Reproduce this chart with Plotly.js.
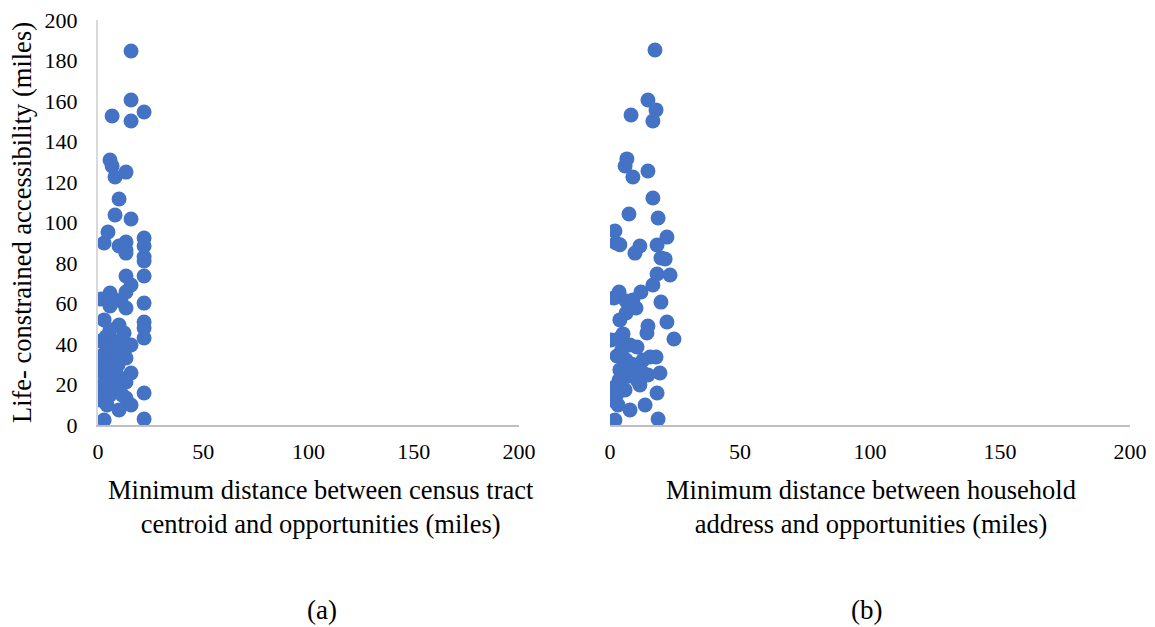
<!DOCTYPE html>
<html>
<head>
<meta charset="utf-8">
<script src="https://cdn.plot.ly/plotly-3.0.1.min.js"></script>
<style>html,body{margin:0;padding:0;background:#fff}#chart{width:1155px;height:627px}</style>
</head>
<body>
<div id="chart"></div>
<script>
// Panel (a): census tract centroid distance (x) vs life-constrained accessibility (y)
const tractDistance = [15.7,15.7,21.9,6.7,15.7,5.7,6.7,8.1,13.3,10,8.1,15.7,4.75,2.9,10,13.3,13.3,21.9,21.9,13.3,21.9,21.9,13.3,21.9,15.7,13.3,5.7,1.4,8.1,10.9,21.9,5.7,13.3,2.9,21.9,21.9,10,12.4,21.9,1.4,3.8,6.7,15.7,2.4,5.7,9.5,12.4,13.3,2.4,5.7,9.5,8.1,2.4,15.7,4.75,10.5,13.3,2.4,6.7,10,2.4,5.7,21.9,1.4,13.3,4.3,15.7,10,2.9,21.9,8.1,5.7,10.5,3.8,11.5];
const tractAccess   = [184.7,160.5,154.6,152.6,150.1,130.9,127.9,122.5,124.9,111.6,103.7,101.7,95.3,89.9,88.4,90.4,86.4,92.3,88.4,84.9,83,81,73.6,73.6,69.1,65.7,65.2,62.2,61.7,61.2,60.2,58.8,57.8,51.9,50.9,47.9,49.4,45.4,43,41.5,43.5,42,39.5,34.6,38,37,36,33.1,31.1,31.1,29.6,26.2,25.7,25.7,23.2,23.2,21.2,19.8,19.8,17.3,14.8,14.8,15.8,12.3,13.3,9.9,9.9,7.4,2.5,3,34.6,47,41,28,14.8];

// Panel (b): household address distance (x) vs life-constrained accessibility (y)
const householdDistance = [17.3,14.6,17.7,8.1,16.5,6.5,5.8,8.8,14.6,16.5,7.3,18.5,1.9,2.3,3.8,11.5,18.1,9.6,21.9,19.6,21.2,18.1,23.1,16.5,11.9,3.5,1.5,6.2,8.8,19.6,10,6.2,3.8,14.6,14.2,21.9,24.6,0.4,3.8,7.7,10.4,2.7,6.2,15.4,17.7,12.7,3.8,9.6,19.2,3.5,14.6,12.3,1.9,5.8,11.5,18.1,0.8,3.1,13.5,7.7,1.9,18.5,5,8.5,4.5,10.5,6.5,2.5];
const householdAccess   = [185.2,160.5,155.6,153.1,150.1,131.4,127.9,122.5,125.4,112.1,104.2,102.2,95.8,89.9,89,88.4,88.9,84.9,92.8,82.5,82,74.6,74.1,69.1,65.7,65.7,62.7,61.2,61.7,60.7,57.8,55.3,51.9,48.9,45.4,50.9,42.5,42,43,39.5,38.5,34.1,32.1,33.6,33.6,32.1,27.2,27.2,25.7,22.2,24.7,26.2,18.8,17.3,19.8,15.8,12.3,9.9,9.9,7.4,2.5,3,45,30,37,22,24,15];

const xTicks = [0,50,100,150,200];
const yTicks = [0,20,40,60,80,100,120,140,160,180,200];
const xTitleA = 'Minimum distance between census tract<br>centroid and opportunities (miles)';
const xTitleB = 'Minimum distance between household<br>address and opportunities (miles)';
const yTitle = 'Life- constrained accessibility (miles)';
const panelLabels = ['(a)','(b)'];

const serif = 'Liberation Serif, Times New Roman, serif';
const marker = {color:'#4472C4', size:15, line:{width:0}};

const traces = [
  {type:'scatter', mode:'markers', x:tractDistance, y:tractAccess, xaxis:'x', yaxis:'y', marker:marker, hoverinfo:'x+y'},
  {type:'scatter', mode:'markers', x:householdDistance, y:householdAccess, xaxis:'x2', yaxis:'y2', marker:marker, hoverinfo:'x+y'}
];

const W = 1155, H = 627;
const xAxisBase = {
  range:[0,200], tickvals:xTicks, ticktext:xTicks.map(String), showgrid:false, zeroline:false,
  showline:true, linecolor:'#BFBFBF', linewidth:2, ticks:'', ticklabelstandoff:6,
  tickfont:{family:serif, size:22, color:'#000'}, fixedrange:true
};
const titleFont = {family:serif, size:26.5, color:'#000'};
const layout = {
  width:W, height:H, margin:{l:0,r:0,t:0,b:0}, showlegend:false,
  paper_bgcolor:'#fff', plot_bgcolor:'#fff',
  font:{family:serif, color:'#000'},
  xaxis:Object.assign({}, xAxisBase, {domain:[98/W, 519/W], anchor:'y'}),
  xaxis2:Object.assign({}, xAxisBase, {domain:[610/W, 1130/W], anchor:'y2'}),
  yaxis:{domain:[(H-425)/H, (H-20)/H], range:[0,200], tickvals:yTicks, showgrid:false, zeroline:false,
    showline:true, linecolor:'#D9D9D9', linewidth:2, ticks:'', ticklabelstandoff:14, anchor:'x',
    tickfont:{family:serif,size:22,color:'#000'},
    title:{text:yTitle, font:titleFont, standoff:5}, fixedrange:true},
  yaxis2:{domain:[(H-425)/H, (H-20)/H], range:[0,200], showgrid:false, zeroline:false, showline:false,
    showticklabels:false, ticks:'', anchor:'x2', fixedrange:true},
  annotations:[
    {text:xTitleA, xref:'paper', yref:'paper', x:321/W, y:(H-507)/H, xanchor:'center', yanchor:'middle', showarrow:false, font:titleFont},
    {text:xTitleB, xref:'paper', yref:'paper', x:871/W, y:(H-507)/H, xanchor:'center', yanchor:'middle', showarrow:false, font:titleFont},
    {text:panelLabels[0], xref:'paper', yref:'paper', x:322/W, y:(H-610)/H, xanchor:'center', yanchor:'middle', showarrow:false, font:{family:serif,size:27,color:'#000'}},
    {text:panelLabels[1], xref:'paper', yref:'paper', x:866/W, y:(H-610)/H, xanchor:'center', yanchor:'middle', showarrow:false, font:{family:serif,size:27,color:'#000'}}
  ]
};
Plotly.newPlot('chart', traces, layout, {displayModeBar:false, staticPlot:true});
</script>
</body>
</html>
